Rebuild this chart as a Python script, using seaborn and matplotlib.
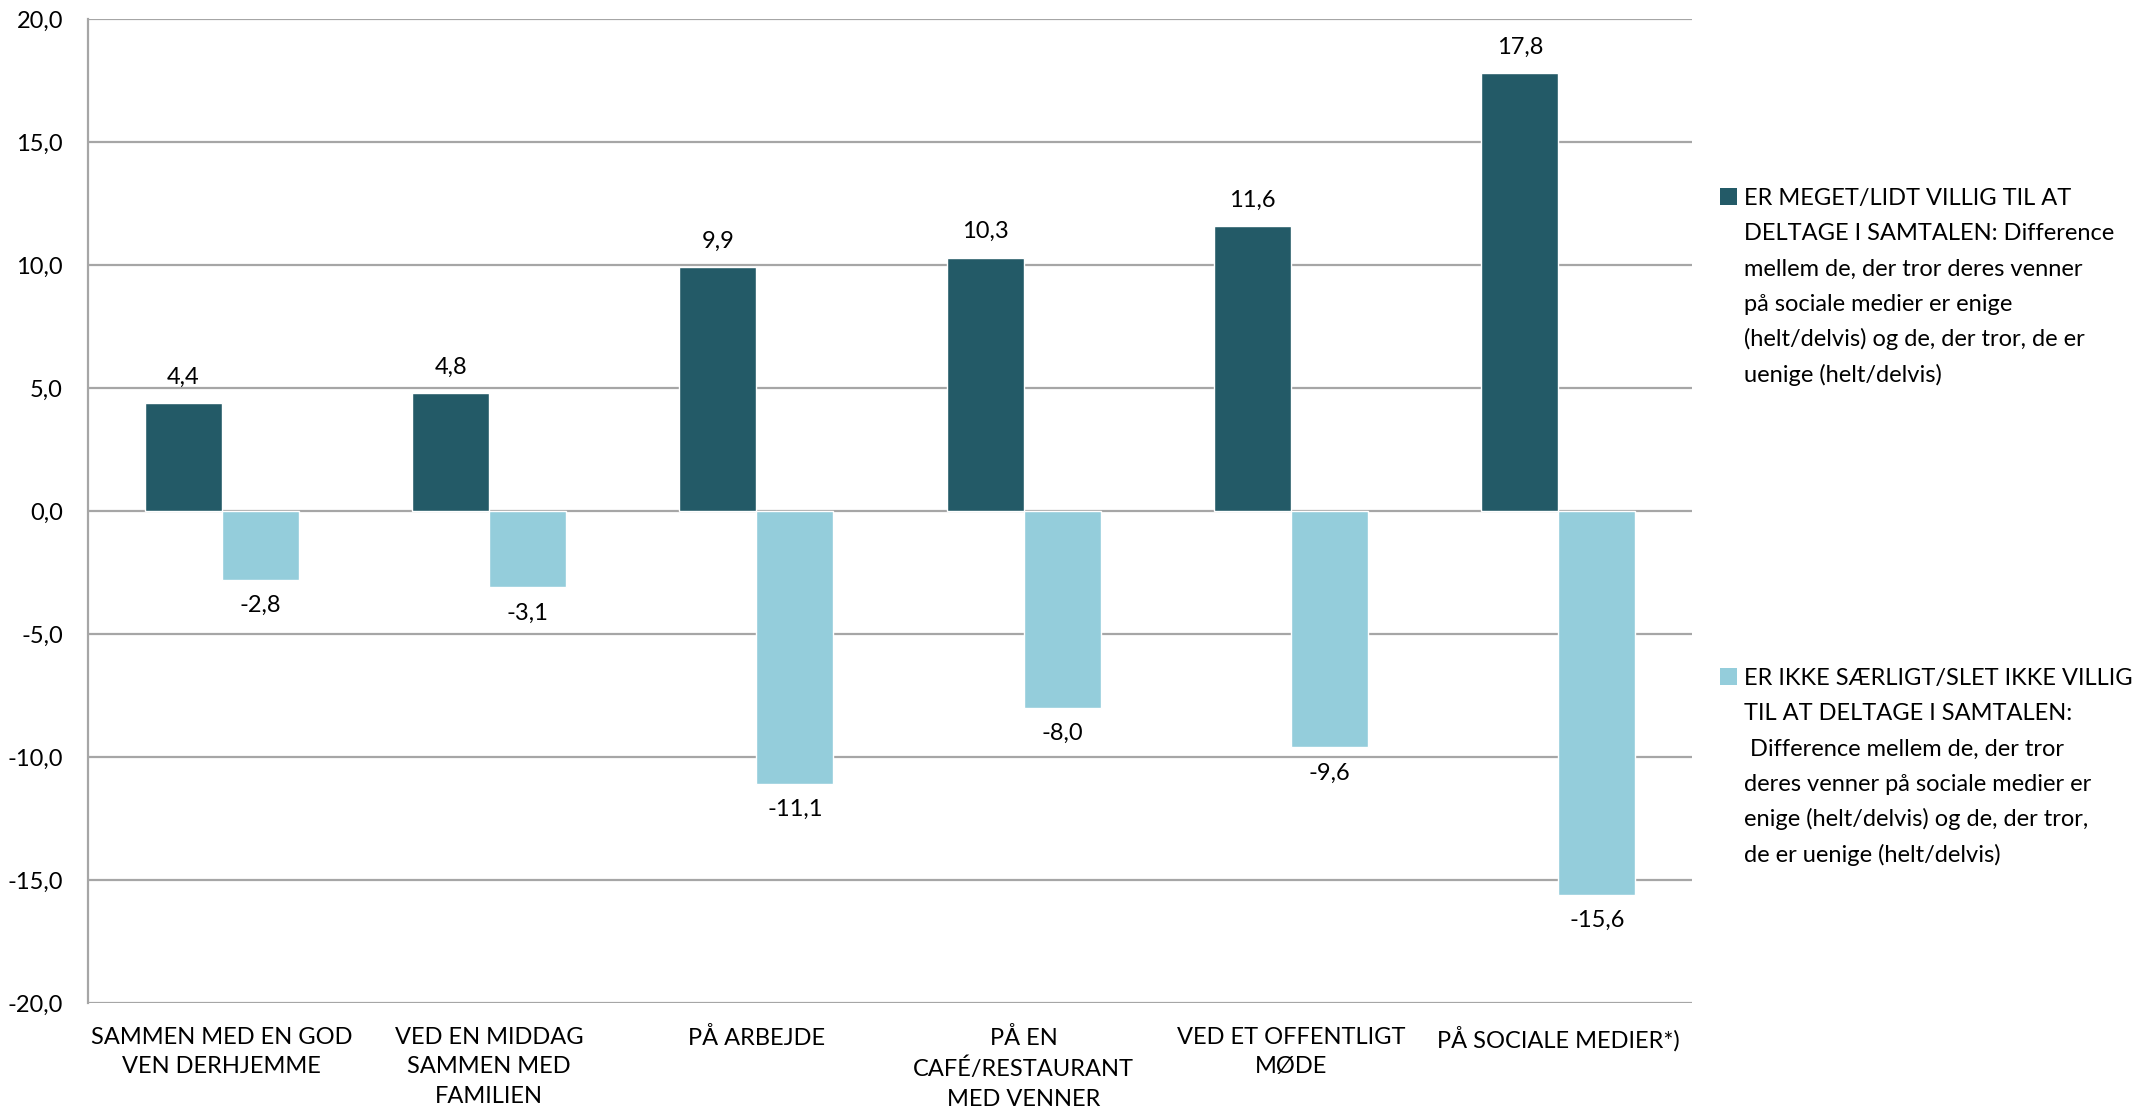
import matplotlib
matplotlib.use("Agg")
import matplotlib.pyplot as plt
import seaborn as sns
import pandas as pd
from matplotlib.patches import Rectangle

categories = [
    "SAMMEN MED EN GOD\nVEN DERHJEMME",
    "VED EN MIDDAG\nSAMMEN MED\nFAMILIEN",
    "PÅ ARBEJDE",
    "PÅ EN\nCAFÉ/RESTAURANT\nMED VENNER",
    "VED ET OFFENTLIGT\nMØDE",
    "PÅ SOCIALE MEDIER*)",
]
series_names = ["villig", "ikke_villig"]
villig = [4.4, 4.8, 9.9, 10.3, 11.6, 17.8]
ikke_villig = [-2.8, -3.1, -11.1, -8.0, -9.6, -15.6]
y_ticks = [-20, -15, -10, -5, 0, 5, 10, 15, 20]

legend_1 = ["ER MEGET/LIDT VILLIG TIL AT",
            "DELTAGE I SAMTALEN: Difference",
            "mellem de, der tror deres venner",
            "på sociale medier er enige",
            "(helt/delvis) og de, der tror, de er",
            "uenige (helt/delvis)"]
legend_2 = ["ER IKKE SÆRLIGT/SLET IKKE VILLIG",
            "TIL AT DELTAGE I SAMTALEN:",
            " Difference mellem de, der tror",
            "deres venner på sociale medier er",
            "enige (helt/delvis) og de, der tror,",
            "de er uenige (helt/delvis)"]

dark = "#235A67"
light = "#94CDDB"
grid_col = "#A6A6A6"
FS = 17
W, H = 2152, 1112

sns.set_theme(style="white")
plt.rcParams["font.family"] = ["Lato", "DejaVu Sans"]

df = pd.DataFrame({
    "cat": categories * 2,
    "series": [series_names[0]] * len(categories) + [series_names[1]] * len(categories),
    "value": villig + ikke_villig,
})

fig = plt.figure(figsize=(W / 100, H / 100), dpi=100)
ax = fig.add_axes([88 / W, 1 - 1003 / H, (1692 - 88) / W, (1003 - 19) / H])

sns.barplot(data=df, x="cat", y="value", hue="series", order=categories,
            hue_order=series_names, palette=[dark, light], width=0.575,
            saturation=1, legend=False, ax=ax, errorbar=None, zorder=3)

ax.set_ylim(-20, 20)
ax.set_xlim(-0.5, len(categories) - 0.5)
ax.set_yticks(y_ticks)
ax.set_yticklabels([f"{t:.1f}".replace(".", ",") for t in y_ticks])
for t in y_ticks:
    ax.axhline(t, color=grid_col, lw=1.6, zorder=1)
ax.set_xlabel("")
ax.set_ylabel("")
for s in ["top", "right", "bottom"]:
    ax.spines[s].set_visible(False)
ax.spines["left"].set_color(grid_col)
ax.spines["left"].set_linewidth(1.6)
ax.tick_params(axis="y", length=0, pad=18, labelsize=FS, colors="black")
ax.tick_params(axis="x", length=0, pad=17, labelsize=FS, colors="black")
for lbl in ax.get_xticklabels():
    lbl.set_linespacing(1.5)

for cont in ax.containers:
    vals = [b.get_height() for b in cont]
    ax.bar_label(cont, labels=[f"{v:.1f}".replace(".", ",") for v in vals],
                 padding=11, fontsize=FS, color="black")

# legend (drawn line by line to match the wrapped legend of the original)
sq = 17
line_h = 35.3
for color, lines, base in [(dark, legend_1, 205), (light, legend_2, 685)]:
    fig.add_artist(Rectangle((1720 / W, 1 - base / H), sq / W, sq / H,
                             transform=fig.transFigure, facecolor=color, edgecolor="none"))
    for i, line in enumerate(lines):
        fig.text(1744 / W, 1 - (base + i * line_h) / H, line, fontsize=FS,
                 va="baseline", ha="left", color="black")

fig.savefig("out.png", dpi=100)
